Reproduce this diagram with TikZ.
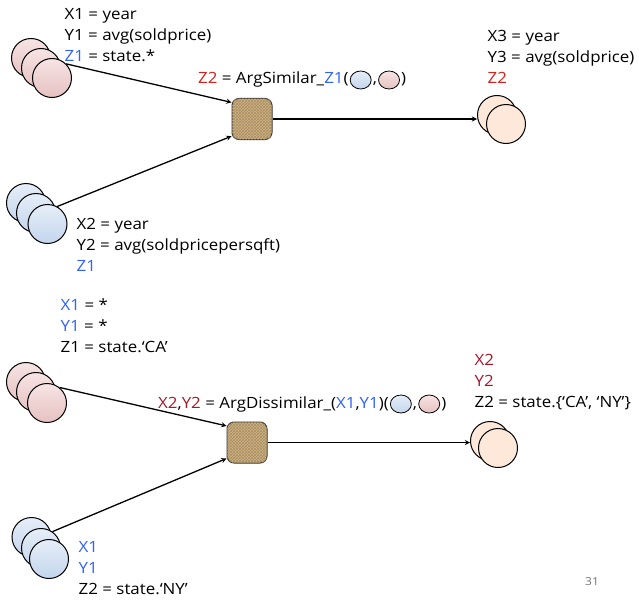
\documentclass[tikz,border=0pt]{standalone}
\usepackage{fontspec}
\setmainfont[FakeStretch = 1.09]{Open Sans}
\usepackage{xcolor}
\usetikzlibrary{positioning,patterns,shapes.geometric}
\definecolor{pinktop}{HTML}{F7E4E4}
\definecolor{pinkbot}{HTML}{E6C1C1}
\definecolor{bluetop}{HTML}{E6EEF8}
\definecolor{bluebot}{HTML}{C3D5EC}
\definecolor{peach}{HTML}{FDE8DA}
\definecolor{burlapfill}{HTML}{D3B47A}
\definecolor{burlapdark}{HTML}{7E5E2E}
\definecolor{zred}{HTML}{D0221F}
\definecolor{zdred}{HTML}{A5172B}
\definecolor{zblue}{HTML}{2F62F5}

\tikzset{
  pinkball/.style = {circle, draw, line width = 1pt, minimum size = 39pt, inner sep = 0pt, top color = pinktop, bottom color = pinkbot},
  blueball/.style = {circle, draw, line width = 1pt, minimum size = 39pt, inner sep = 0pt, top color = bluetop, bottom color = bluebot},
  peachball/.style = {circle, draw, line width = 1pt, minimum size = 39pt, inner sep = 0pt, fill = peach},
  minipink/.style = {ellipse, draw, line width = 0.8pt, minimum width = 21pt, minimum height = 18pt, inner sep = 0pt, top color = pinktop, bottom color = pinkbot},
  miniblue/.style = {ellipse, draw, line width = 0.8pt, minimum width = 21pt, minimum height = 18pt, inner sep = 0pt, top color = bluetop, bottom color = bluebot},
  burlap/.style = {draw = black!80, line width = 1pt, rounded corners = 7pt, minimum width = 40pt, minimum height = 41pt, fill = burlapfill, postaction = {pattern = crosshatch, pattern color = burlapdark!70}},
  lines/.style = {anchor = west, align = left, inner sep = 0pt, font = \fontsize{15.5}{21}\selectfont},
  lbl/.style = {inner sep = 0pt, font = \fontsize{15.5}{21}\selectfont, text height = 11pt, text depth = 3pt}
}

\begin{document}
\begin{tikzpicture}[x = 1pt, y = -1pt]
        \useasboundingbox (0, 0) rectangle (639, 599);

        % Upper example
        \node [pinkball] (p1a) at (31, 58) {};
        \node [pinkball] (p1b) at (41, 68) {};
        \node [pinkball] (p1c) at (52, 78) {};
        \node [lines] (t1) at (64.5, 35) {X1 = year\\Y1 = avg(soldprice)\\\textcolor{zblue}{Z1} = state.*};

        \node [blueball] (b1a) at (26, 203) {};
        \node [blueball] (b1b) at (36, 213) {};
        \node [blueball] (b1c) at (47.5, 224) {};
        \node [lines] (t2) at (76.5, 245) {X2 = year\\Y2 = avg(soldpricepersqft)\\\textcolor{zblue}{Z1}};

        \node [burlap] (box1) at (252, 119) {};
        \node [lbl, anchor = west] (l1a) at (198, 80) {\textcolor{zred}{Z2} = ArgSimilar\_\textcolor{zblue}{Z1}(};
        \node [miniblue, right = 1pt of l1a] (l1b) {};
        \node [lbl, right = 1pt of l1b] (l1c) {,};
        \node [minipink, right = 1pt of l1c] (l1d) {};
        \node [lbl, right = 1pt of l1d] (l1e) {)};

        \node [peachball] (r1a) at (497, 115) {};
        \node [peachball] (r1b) at (506, 124) {};
        \node [lines] (t3) at (487.5, 57) {X3 = year\\Y3 = avg(soldprice)\\\textcolor{zred}{Z2}};

        \draw [->, > = stealth, line width = 1.3pt] (p1c.45) -- (box1.141);
        \draw [->, > = stealth, line width = 1.3pt] (b1c.61) -- (box1.220);
        \draw [->, > = stealth, line width = 1.3pt] (box1.east) -- (box1.east -| r1a.west);

        % Lower example
        \node [lines] (t4) at (60.5, 326) {\textcolor{zblue}{X1} = *\\\textcolor{zblue}{Y1} = *\\Z1 = state.‘CA’};
        \node [pinkball] (p2a) at (26, 382) {};
        \node [pinkball] (p2b) at (36, 392) {};
        \node [pinkball] (p2c) at (47, 403) {};

        \node [blueball] (b2a) at (31.5, 537) {};
        \node [blueball] (b2b) at (41, 548) {};
        \node [blueball] (b2c) at (49, 559) {};
        \node [lines] (t5) at (78.5, 568) {\textcolor{zblue}{X1}\\\textcolor{zblue}{Y1}\\Z2 = state.‘NY’};

        \node [burlap] (box2) at (247, 442.5) {};
        \node [lbl, anchor = west] (l2a) at (158, 404) {\textcolor{zdred}{X2},\textcolor{zdred}{Y2} = ArgDissimilar\_(\textcolor{zblue}{X1},\textcolor{zblue}{Y1})(};
        \node [miniblue, right = 1pt of l2a] (l2b) {};
        \node [lbl, right = 1pt of l2b] (l2c) {,};
        \node [minipink, right = 1pt of l2c] (l2d) {};
        \node [lbl, right = 1pt of l2d] (l2e) {)};

        \node [peachball] (r2a) at (490, 441) {};
        \node [peachball] (r2b) at (498, 448) {};
        \node [lines] (t6) at (474.5, 382) {\textcolor{zdred}{X2}\\\textcolor{zdred}{Y2}\\Z2 = state.\{‘CA’, ‘NY’\}};

        \draw [->, > = stealth, line width = 1.3pt] (p2c.51) -- (box2.141);
        \draw [->, > = stealth, line width = 1.3pt] (b2b.55) -- (box2.218);
        \draw [->, > = stealth, line width = 1.3pt] (box2.east) -- (box2.east -| r2a.west);

        % Page number
        \node [inner sep = 0pt, font = \fontsize{11}{13}\selectfont, text = black!55] (pg) at (592, 582) {31};

    \end{tikzpicture}
\end{document}
